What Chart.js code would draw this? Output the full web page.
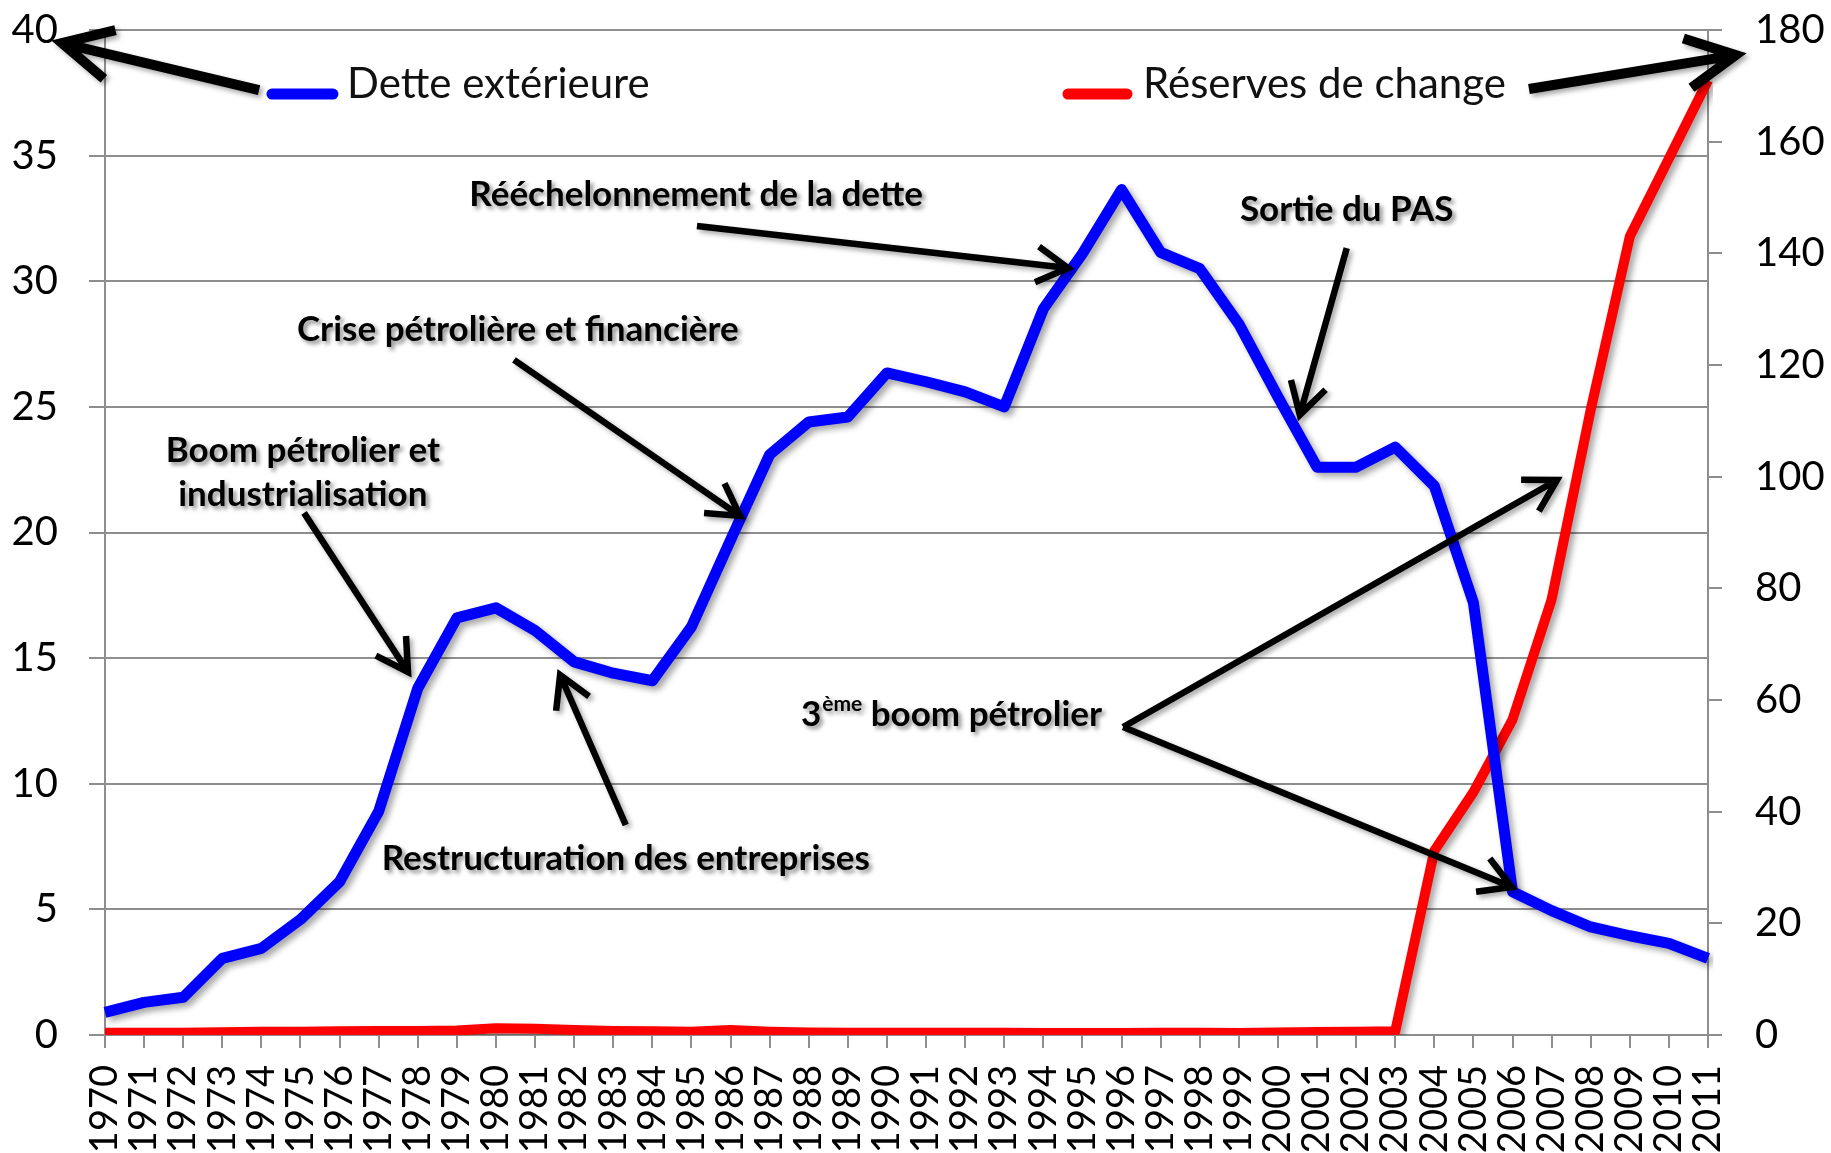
<!DOCTYPE html>
<html lang="fr">
<head>
<meta charset="utf-8">
<title>Dette extérieure et réserves de change</title>
<script src="https://cdn.jsdelivr.net/npm/chart.js@4.4.1/dist/chart.umd.min.js"></script>
<style>
  html, body { margin: 0; padding: 0; background: #fff; }
  #chart-wrap { width: 1831px; height: 1153px; }
</style>
</head>
<body>
<div id="chart-wrap"><canvas id="chart" width="1831" height="1153"></canvas></div>
<script>
// Années (axe horizontal)
const years = [
  '1970', '1971', '1972', '1973', '1974', '1975', '1976', '1977', '1978', '1979',
  '1980', '1981', '1982', '1983', '1984', '1985', '1986', '1987', '1988', '1989',
  '1990', '1991', '1992', '1993', '1994', '1995', '1996', '1997', '1998', '1999',
  '2000', '2001', '2002', '2003', '2004', '2005', '2006', '2007', '2008', '2009',
  '2010', '2011'
];

// Dette extérieure (axe gauche)
const detteExterieure = [
  0.9, 1.3, 1.5, 3.05, 3.45, 4.6, 6.1, 8.9, 13.8, 16.6,
  17.0, 16.1, 14.85, 14.4, 14.1, 16.25, 19.7, 23.1, 24.4, 24.6,
  26.35, 26.0, 25.6, 25.0, 28.9, 31.1, 33.65, 31.15, 30.5, 28.3,
  25.4, 22.6, 22.6, 23.4, 21.85, 17.2, 5.7, 4.95, 4.3, 3.95,
  3.65, 3.05
];

// Réserves de change (axe droit)
const reservesChange = [
  0.4, 0.4, 0.4, 0.5, 0.6, 0.6, 0.65, 0.7, 0.7, 0.8,
  1.2, 1.1, 0.9, 0.7, 0.65, 0.6, 0.9, 0.6, 0.45, 0.4,
  0.4, 0.4, 0.4, 0.4, 0.35, 0.35, 0.35, 0.4, 0.4, 0.35,
  0.45, 0.55, 0.6, 0.65, 33, 43.5, 56.5, 78, 112, 143,
  157, 171
];

const leftTicks = [0, 5, 10, 15, 20, 25, 30, 35, 40];
const rightTicks = [0, 20, 40, 60, 80, 100, 120, 140, 160, 180];

const gridColor = '#8e8e8e';

// Annotations (positions en coordonnées des axes : index d'année, valeur de gauche)
const notes = [
  { text: 'Boom pétrolier et', x: 5.06, y: 23.24 },
  { text: 'industrialisation', x: 5.06, y: 21.49 },
  { text: 'Crise pétrolière et financière', x: 10.56, y: 28.06 },
  { text: 'Rééchelonnement de la dette', x: 15.12, y: 33.43 },
  { text: 'Restructuration des entreprises', x: 13.32, y: 7.0 },
  { text: 'Sortie du PAS', x: 31.76, y: 32.84 }
];

const thinArrows = [
  { from: [5.09, 20.78], to: [7.75, 14.45] },
  { from: [10.46, 26.87], to: [16.24, 20.66] },
  { from: [15.14, 32.2], to: [24.63, 30.53] },
  { from: [13.32, 8.36], to: [11.64, 14.33] },
  { from: [31.76, 31.32], to: [30.56, 24.68] },
  { from: [26.04, 12.26], to: [37.14, 22.09] },
  { from: [26.04, 12.26], to: [35.98, 5.89] }
];

const legendArrows = [
  { from: [3.94, 37.61], to: [-1.1, 39.48] },
  { from: [36.42, 37.65], to: [41.71, 39.0] }
];

function drawArrow(ctx, x1, y1, x2, y2, width, headLen, headAngle) {
  const ang = Math.atan2(y1 - y2, x1 - x2);
  ctx.lineWidth = width;
  ctx.lineCap = 'butt';
  ctx.lineJoin = 'miter';
  ctx.miterLimit = 10;
  ctx.beginPath();
  ctx.moveTo(x1, y1);
  ctx.lineTo(x2, y2);
  ctx.moveTo(x2 + headLen * Math.cos(ang + headAngle), y2 + headLen * Math.sin(ang + headAngle));
  ctx.lineTo(x2, y2);
  ctx.lineTo(x2 + headLen * Math.cos(ang - headAngle), y2 + headLen * Math.sin(ang - headAngle));
  ctx.stroke();
}

// Ombre portée des courbes
const lineShadow = {
  id: 'lineShadow',
  beforeDatasetDraw(chart) {
    const ctx = chart.ctx;
    ctx.save();
    ctx.shadowColor = 'rgba(0, 0, 0, 0.35)';
    ctx.shadowBlur = 6;
    ctx.shadowOffsetX = 4;
    ctx.shadowOffsetY = 4;
  },
  afterDatasetDraw(chart) {
    chart.ctx.restore();
  }
};

// Légende, flèches et textes
const annotationsPlugin = {
  id: 'annotations',
  afterDatasetsDraw(chart) {
    const { ctx } = chart;
    const sx = chart.scales.x;
    const sy = chart.scales.y;
    const px = v => sx.getPixelForValue(v);
    const py = v => sy.getPixelForValue(v);

    ctx.save();

    // légende
    const legendItems = [
      { ds: chart.data.datasets[0], x0: 4.27, x1: 5.83, tx: 6.19 },
      { ds: chart.data.datasets[1], x0: 24.63, x1: 26.14, tx: 26.55 }
    ];
    legendItems.forEach(item => {
      ctx.strokeStyle = item.ds.borderColor;
      ctx.lineWidth = 11;
      ctx.lineCap = 'round';
      ctx.beginPath();
      ctx.moveTo(px(item.x0), py(37.45));
      ctx.lineTo(px(item.x1), py(37.45));
      ctx.stroke();
      ctx.fillStyle = '#111';
      ctx.font = '42px Lato';
      ctx.textAlign = 'left';
      ctx.textBaseline = 'alphabetic';
      ctx.fillText(item.ds.label, px(item.tx), py(37.29));
    });

    // flèches
    ctx.shadowColor = 'rgba(0, 0, 0, 0.35)';
    ctx.shadowBlur = 5;
    ctx.shadowOffsetX = 3;
    ctx.shadowOffsetY = 3;
    ctx.strokeStyle = '#000';
    legendArrows.forEach(a => {
      drawArrow(ctx, px(a.from[0]), py(a.from[1]), px(a.to[0]), py(a.to[1]), 10, 55, 27 * Math.PI / 180);
    });
    thinArrows.forEach(a => {
      drawArrow(ctx, px(a.from[0]), py(a.from[1]), px(a.to[0]), py(a.to[1]), 6.5, 36, 30 * Math.PI / 180);
    });

    // textes
    ctx.shadowColor = 'rgba(0, 0, 0, 0.45)';
    ctx.shadowBlur = 4;
    ctx.fillStyle = '#000';
    ctx.font = 'bold 35px Lato';
    ctx.textAlign = 'center';
    ctx.textBaseline = 'middle';
    notes.forEach(n => ctx.fillText(n.text, px(n.x), py(n.y)));

    // 3ème boom pétrolier
    let x = px(17.8);
    const yMid = py(12.74);
    ctx.textAlign = 'left';
    ctx.fillText('3', x, yMid);
    x += ctx.measureText('3').width;
    ctx.font = 'bold 21px Lato';
    ctx.fillText('ème', x + 1, yMid - 11);
    x += ctx.measureText('ème').width + 1;
    ctx.font = 'bold 35px Lato';
    ctx.fillText(' boom pétrolier', x, yMid);

    ctx.restore();
  }
};

// Largeurs d'axes fixes, sans marge ajoutée pour les étiquettes
function fixAxisWidth(w) {
  return scale => {
    scale.width = w;
    scale.paddingTop = 0;
    scale.paddingBottom = 0;
  };
}

new Chart(document.getElementById('chart').getContext('2d'), {
  type: 'line',
  data: {
    labels: years,
    datasets: [
      {
        label: 'Dette extérieure',
        data: detteExterieure,
        yAxisID: 'y',
        borderColor: '#0000ff',
        backgroundColor: '#0000ff',
        borderWidth: 11,
        pointRadius: 0,
        tension: 0,
        fill: false
      },
      {
        label: 'Réserves de change',
        data: reservesChange,
        yAxisID: 'y1',
        borderColor: '#ff0000',
        backgroundColor: '#ff0000',
        borderWidth: 10,
        pointRadius: 0,
        tension: 0,
        fill: false
      }
    ]
  },
  options: {
    responsive: false,
    animation: false,
    layout: { padding: { top: 30, right: 0, bottom: 0, left: 0 } },
    elements: { line: { borderJoinStyle: 'round', borderCapStyle: 'butt' } },
    plugins: {
      legend: { display: false },
      tooltip: { enabled: false }
    },
    scales: {
      x: {
        grid: { drawOnChartArea: false, drawTicks: true, tickLength: 13, color: gridColor, lineWidth: 2 },
        border: { display: true, color: gridColor, width: 2 },
        ticks: {
          autoSkip: false,
          maxRotation: 90,
          minRotation: 90,
          padding: 17,
          color: '#000',
          font: { family: 'Lato', size: 38 }
        },
        afterFit: scale => {
          scale.height = 118;
          scale.paddingLeft = 0;
          scale.paddingRight = 0;
        }
      },
      y: {
        position: 'left',
        min: 0,
        max: 40,
        afterBuildTicks: axis => { axis.ticks = leftTicks.map(v => ({ value: v })); },
        grid: { color: gridColor, lineWidth: 2, tickLength: 16 },
        border: { display: true, color: gridColor, width: 2 },
        ticks: { padding: 31, color: '#000', font: { family: 'Lato', size: 40 } },
        afterFit: fixAxisWidth(105)
      },
      y1: {
        position: 'right',
        min: 0,
        max: 180,
        afterBuildTicks: axis => { axis.ticks = rightTicks.map(v => ({ value: v })); },
        grid: { drawOnChartArea: false, color: gridColor, lineWidth: 2, tickLength: 14 },
        border: { display: true, color: gridColor, width: 2 },
        ticks: { padding: 33, color: '#000', font: { family: 'Lato', size: 40 } },
        afterFit: fixAxisWidth(123)
      }
    }
  },
  plugins: [lineShadow, annotationsPlugin]
});
</script>
</body>
</html>
